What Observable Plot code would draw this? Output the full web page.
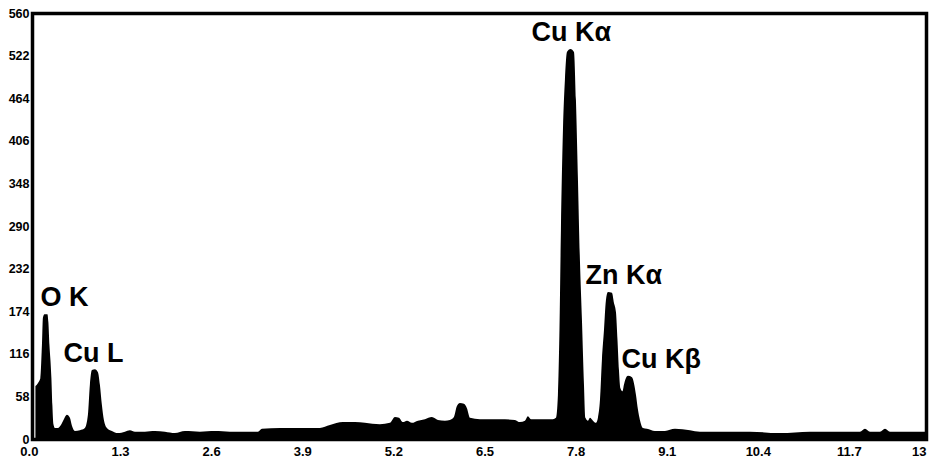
<!DOCTYPE html>
<html><head><meta charset="utf-8">
<script src="https://cdn.jsdelivr.net/npm/d3@7"></script>
<script src="https://cdn.jsdelivr.net/npm/@observablehq/plot@0.6"></script>
<style>html,body{margin:0;padding:0;background:#fff}</style>
</head><body><div id="chart"></div>
<script>
// EDS spectrum: energy (keV) and counts
const energy = [0.093,0.128,0.164,0.186,0.200,0.221,0.264,0.278,0.293,0.307,0.321,0.335,0.350,0.371,0.414,0.457,0.499,0.542,0.585,0.614,0.656,0.728,0.799,0.842,0.870,0.899,0.942,0.985,1.013,1.042,1.070,1.113,1.184,1.270,1.370,1.441,1.513,1.655,1.798,1.941,2.083,2.226,2.440,2.654,2.868,3.082,3.268,3.325,3.582,3.867,4.152,4.295,4.481,4.652,4.794,5.008,5.151,5.223,5.280,5.337,5.394,5.465,5.551,5.651,5.750,5.836,5.936,6.007,6.064,6.107,6.150,6.207,6.250,6.293,6.435,6.721,6.935,7.006,7.078,7.120,7.163,7.363,7.477,7.520,7.548,7.570,7.591,7.620,7.648,7.677,7.727,7.777,7.805,7.834,7.862,7.891,7.920,7.941,7.977,8.005,8.048,8.091,8.119,8.148,8.176,8.205,8.233,8.262,8.319,8.348,8.376,8.398,8.419,8.440,8.469,8.490,8.519,8.547,8.605,8.633,8.662,8.690,8.718,8.761,8.818,8.933,9.075,9.218,9.432,9.575,9.860,10.288,10.716,11.144,11.572,11.858,11.929,12.001,12.143,12.215,12.286,12.572,12.800];
const counts = [72,76,83,128,165,170,170,159,128,108,83,46,20,15,15,19,27,33,29,18,11,12,15,33,74,94,95,91,74,46,26,15,11,8,10,12,10,10,11,10,8,11,10,11,10,10,10,14,15,15,15,19,23,23,22,20,22,30,29,23,25,22,25,27,30,26,25,26,30,45,49,48,42,29,27,27,26,23,25,31,27,27,27,29,60,148,285,421,489,527,531,527,462,353,244,162,74,29,25,29,25,22,29,53,108,148,189,200,199,185,173,135,94,69,65,74,83,86,84,76,60,40,26,15,14,11,11,14,12,10,10,10,8,10,10,10,14,10,10,14,10,10,10];

const xMax = 12.8;
const xTicks = [0, 1.3, 2.6, 3.9, 5.2, 6.5, 7.8, 9.1, 10.4, 11.7];
const xTickLabels = ["0.0","1.3","2.6","3.9","5.2","6.5","7.8","9.1","10.4","11.7"];
const xEndLabel = "13";
const yTicks = [0, 58, 116, 174, 232, 290, 348, 406, 464, 522, 580];
const yTickLabels = ["0","58","116","174","232","290","348","406","464","522","560"];

const peakLabels = ["O K", "Cu L", "Cu Kα", "Zn Kα", "Cu Kβ"];
const peakLabelX = [0.157, 0.485, 7.163, 7.934, 8.447];
const peakLabelY = [182, 105, 542, 212, 97];

const spectrum = energy.map((e, i) => ({e, c: counts[i]}));
const font = "'Liberation Sans', Arial, Helvetica, sans-serif";

const chart = Plot.plot({
  width: 929,
  height: 459,
  marginLeft: 32,
  marginRight: 3,
  marginTop: 13,
  marginBottom: 20,
  x: {domain: [0, xMax], range: [28.9, 926]},
  y: {domain: [0, 580], range: [439, 13]},
  style: {fontFamily: font, fontWeight: "bold", fontSize: "13px", color: "#000", background: "#fff"},
  marks: [
    Plot.areaY(spectrum, {x: "e", y: "c", fill: "#000", curve: "monotone-x"}),
    Plot.frame({stroke: "#000", strokeWidth: 3.5}),
    Plot.axisX({ticks: xTicks, tickFormat: d => xTickLabels[xTicks.indexOf(d)], tickSize: 0, tickPadding: 7, label: null, fontSize: 13, fontWeight: "bold", fill: "#000"}),
    Plot.text([xEndLabel], {x: () => xMax, y: () => 0, text: d => d, textAnchor: "end", lineAnchor: "top", dy: 7, fontSize: 13, fontWeight: "bold", fill: "#000"}),
    Plot.axisY({ticks: yTicks, tickFormat: d => yTickLabels[yTicks.indexOf(d)], tickSize: 0, tickPadding: 3, label: null, fontSize: 12.5, fontWeight: "bold", fill: "#000"}),
    Plot.text(peakLabels, {x: (d, i) => peakLabelX[i], y: (d, i) => peakLabelY[i], text: d => d, textAnchor: "start", lineAnchor: "bottom", fontSize: 27, fontWeight: "bold", fill: "#000"})
  ]
});
document.getElementById("chart").appendChild(chart);
</script>
</body></html>
